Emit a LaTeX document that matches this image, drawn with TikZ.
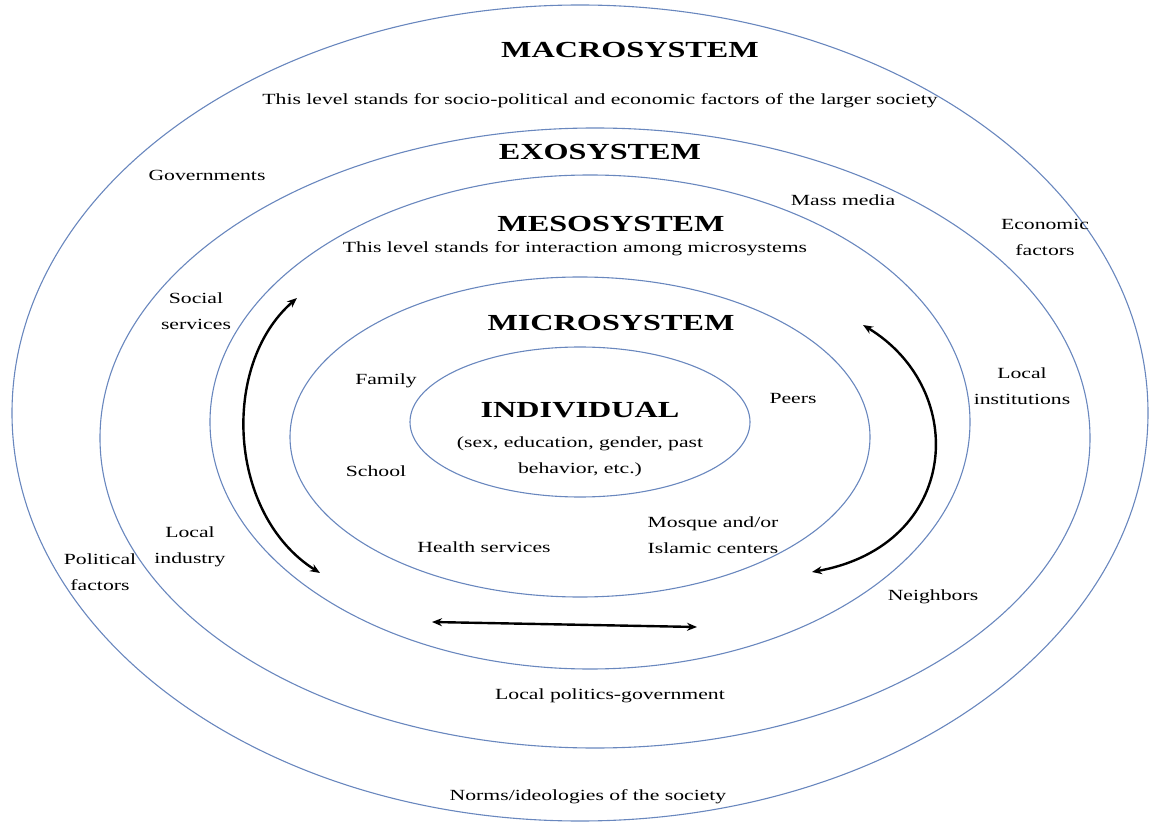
\documentclass[tikz,border=0pt]{standalone}
\usepackage{fontspec}
\setmainfont{Liberation Serif}[FakeStretch=1.4]
\usetikzlibrary{arrows.meta,shapes.geometric}
\definecolor{ringblue}{RGB}{105,135,190}
\begin{document}
\begin{tikzpicture}[x=1pt,y=-1pt,
  ring/.style={draw=ringblue,line width=1.1pt,ellipse,inner sep=0pt,outer sep=0pt},
  title/.style={font=\fontsize{23}{28}\selectfont\bfseries,inner sep=0pt},
  lbl/.style={font=\fontsize{15.5}{26}\selectfont,align=center,inner sep=0pt},
  link/.style={line width=2.4pt,{Stealth[length=10pt,width=8pt]}-{Stealth[length=10pt,width=8pt]}}]
\useasboundingbox (0,0) rectangle (1149,826);
% rings
\node[ring,minimum width=1136pt,minimum height=816pt] (macro) at (580,413) {};
\node[ring,minimum width=990pt,minimum height=620pt] (exo) at (595,438) {};
\node[ring,minimum width=760pt,minimum height=494pt] (meso) at (590,422) {};
\node[ring,minimum width=580pt,minimum height=320pt] (micro) at (580,437) {};
\node[ring,minimum width=340pt,minimum height=150pt] (indiv) at (580,422) {};
% titles
\node[title] (tmacro) at (630,50) {MACROSYSTEM};
\node[lbl] (dmacro) at (600,101) {This level stands for socio-political and economic factors of the larger society};
\node[title] (texo) at (600,152) {EXOSYSTEM};
\node[title] (tmeso) at (611,224) {MESOSYSTEM};
\node[lbl] (dmeso) at (575,249) {This level stands for interaction among microsystems};
\node[title] (tmicro) at (611,323) {MICROSYSTEM};
\node[title] (tind) at (580,410) {INDIVIDUAL};
\node[lbl] (dind) at (580,457) {(sex, education, gender, past\\behavior, etc.)};
% labels
\node[lbl] (gov) at (207,175) {Governments};
\node[lbl] (media) at (843,200) {Mass media};
\node[lbl] (econ) at (1045,237) {Economic\\factors};
\node[lbl] (social) at (196,311) {Social\\services};
\node[lbl] (family) at (386,381) {Family};
\node[lbl] (peers) at (793,399) {Peers};
\node[lbl] (linst) at (1022,386) {Local\\institutions};
\node[lbl] (school) at (376,471) {School};
\node[lbl] (mosque) at (713,535) {Mosque and/or\\Islamic centers};
\node[lbl] (health) at (484,547) {Health services};
\node[lbl] (lind) at (190,547) {Local\\industry};
\node[lbl] (polit) at (100,572) {Political\\factors};
\node[lbl] (neigh) at (933,597) {Neighbors};
\node[lbl] (lpol) at (610,696) {Local politics-government};
\node[lbl] (norms) at (588,797) {Norms/ideologies of the society};
% arrows
\coordinate (la1) at (320,573);
\coordinate (la2) at (297,298);
\coordinate (ra1) at (812,572);
\coordinate (ra2) at (863,325);
\coordinate (ha1) at (432,622);
\coordinate (ha2) at (697,627);
\draw[link] (la1) .. controls (228,515) and (220,365) .. (la2);
\draw[link] (ra1) .. controls (960,545) and (970,390) .. (ra2);
\draw[link] (ha1) -- (ha2);
\end{tikzpicture}
\end{document}
